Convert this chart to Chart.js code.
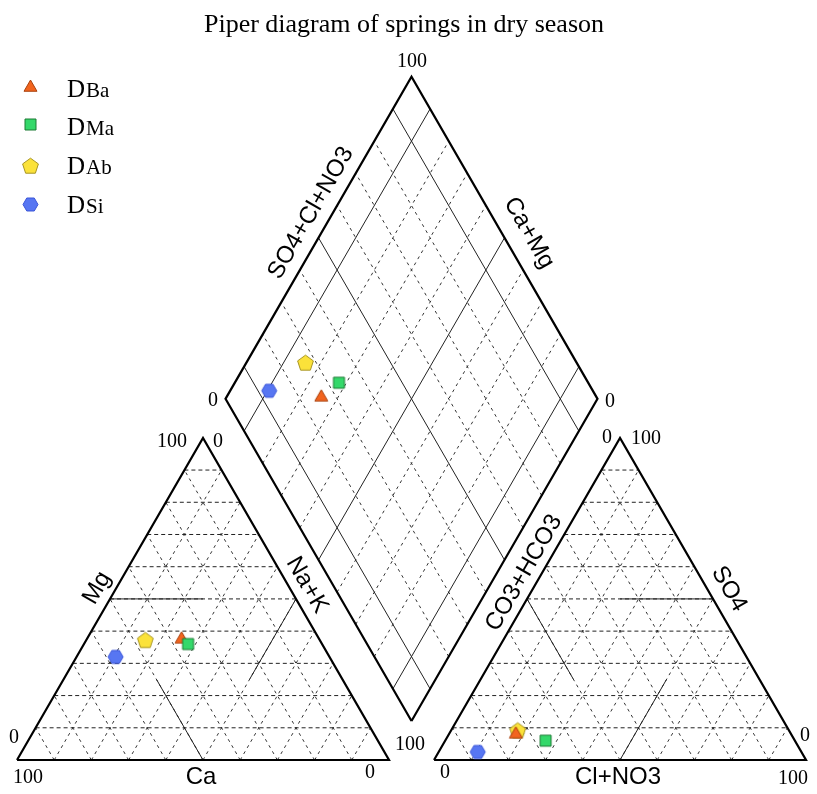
<!DOCTYPE html>
<html>
<head>
<meta charset="utf-8">
<title>Piper diagram of springs in dry season</title>
<script src="https://cdn.jsdelivr.net/npm/chart.js@4.4.1/dist/chart.umd.min.js"></script>
<style>
    html, body { margin: 0; padding: 0; background: #ffffff; }
    #wrap { width: 817px; height: 794px; position: relative; }
</style>
</head>
<body>
<div id="wrap"><canvas id="piper"></canvas></div>
<script>
// Spring samples (dry season)
var springs = ['DBa', 'DMa', 'DAb', 'DSi'];

// Cations, % meq/L
var ca  = [37, 36, 47, 57.5];
var mg  = [37.5, 36, 37, 32];
var nak = [25.5, 28, 16, 10.5];

// Anions, % meq/L
var hco3  = [74, 67, 73, 87];
var so4   = [8, 6, 9, 2.5];
var clno3 = [18, 27, 18, 10.5];

// grid levels (percent) and the ones drawn solid in the diamond
var gridLevels = [10, 20, 30, 40, 50, 60, 70, 80, 90];
var diamondSolid = [10, 50, 90];

// Geometry: each triangle side = 100 units
var H = Math.sqrt(3) / 2;
var GAP = 12.1;
var OFF = 100 + GAP;
var BX = 100 + GAP / 2, BY = GAP / 2 * Math.sqrt(3);

function cationXY(c, m, n) {
    var s = c + m + n;
    m = m / s * 100; n = n / s * 100;
    return { x: n + m / 2, y: m * H };
}
function anionXY(co, s, cl) {
    var t = co + s + cl;
    s = s / t * 100; cl = cl / t * 100;
    return { x: OFF + cl + s / 2, y: s * H };
}
function diamondXY(caMg, so4cl) {
    return { x: BX - caMg / 2 + so4cl / 2, y: BY + (caMg + so4cl) * H };
}
var GAPPT = { x: NaN, y: NaN };

// grid line builders
function triHoriz(off) {
    var pts = [];
    gridLevels.forEach(function(k) {
        pts.push({ x: off + k / 2, y: k * H }, { x: off + 100 - k / 2, y: k * H }, GAPPT);
    });
    return pts;
}
function triDiag(off) {
    var pts = [];
    gridLevels.forEach(function(k) {
        // parallel to left edge
        pts.push({ x: off + k, y: 0 }, { x: off + k + (100 - k) / 2, y: (100 - k) * H }, GAPPT);
        // parallel to right edge
        pts.push({ x: off + 100 - k, y: 0 }, { x: off + (100 - k) / 2, y: (100 - k) * H }, GAPPT);
    });
    return pts;
}
function diamondLines(solid) {
    var pts = [];
    gridLevels.forEach(function(k) {
        var isSolid = diamondSolid.indexOf(k) >= 0;
        if (isSolid !== solid) return;
        pts.push(diamondXY(k, 0), diamondXY(k, 100), GAPPT, diamondXY(0, k), diamondXY(100, k), GAPPT);
    });
    return pts;
}
function triSolid() {
    var pts = [];
    // cation triangle
    pts.push(cationXY(50, 50, 0), cationXY(25, 50, 25), GAPPT);
    pts.push(cationXY(50, 0, 50), cationXY(50, 25, 25), GAPPT);
    pts.push(cationXY(0, 50, 50), cationXY(25, 25, 50), GAPPT);
    // anion triangle
    pts.push(anionXY(0, 50, 50), anionXY(25, 50, 25), GAPPT);
    pts.push(anionXY(50, 50, 0), anionXY(50, 25, 25), GAPPT);
    pts.push(anionXY(50, 0, 50), anionXY(25, 25, 50), GAPPT);
    return pts;
}
function outlines() {
    return [
        { x: 0, y: 0 }, { x: 100, y: 0 }, { x: 50, y: 100 * H }, { x: 0, y: 0 }, GAPPT,
        { x: OFF, y: 0 }, { x: OFF + 100, y: 0 }, { x: OFF + 50, y: 100 * H }, { x: OFF, y: 0 }, GAPPT,
        diamondXY(0, 0), diamondXY(100, 0), diamondXY(100, 100), diamondXY(0, 100), diamondXY(0, 0)
    ];
}

// marker images
function makeMarker(shape, fill, stroke, r) {
    var size = Math.ceil(r * 2 + 4);
    var cv = document.createElement('canvas');
    cv.width = size; cv.height = size;
    var g = cv.getContext('2d');
    var cx = size / 2, cy = size / 2;
    g.beginPath();
    if (shape === 'square') {
        g.rect(cx - r, cy - r, 2 * r, 2 * r);
    } else {
        var n = { triangle: 3, pentagon: 5, hexagon: 6 }[shape];
        var start = shape === 'hexagon' ? 0 : -Math.PI / 2;
        for (var i = 0; i < n; i++) {
            var a = start + i * 2 * Math.PI / n;
            var px = cx + r * Math.cos(a), py = cy + r * Math.sin(a);
            if (i === 0) g.moveTo(px, py); else g.lineTo(px, py);
        }
        g.closePath();
    }
    g.fillStyle = fill;
    g.fill();
    g.lineWidth = 1;
    g.strokeStyle = stroke;
    g.stroke();
    return cv;
}
var markers = {
    DBa: makeMarker('triangle', '#f2641e', '#a8400c', 7.5),
    DMa: makeMarker('square', '#34d86a', '#1d7a34', 5.5),
    DAb: makeMarker('pentagon', '#fbe23a', '#a89522', 8.3),
    DSi: makeMarker('hexagon', '#5776f2', '#3a55d8', 7.5)
};
var drawOrder = { DMa: 0, DBa: 1, DAb: 2, DSi: 3 };

var sampleSets = springs.map(function(name, i) {
    var c = cationXY(ca[i], mg[i], nak[i]);
    var a = anionXY(hco3[i], so4[i], clno3[i]);
    var d = diamondXY(ca[i] + mg[i], so4[i] + clno3[i]);
    return {
        label: name,
        data: [c, a, d],
        pointStyle: markers[name],
        pointRadius: 7,
        showLine: false,
        order: drawOrder[name],
        clip: false
    };
});

function lineSet(label, data, color, width, dash, order) {
    return {
        label: label, data: data, showLine: true, pointRadius: 0,
        borderColor: color, borderWidth: width, borderDash: dash,
        spanGaps: false, fill: false, order: order, clip: false
    };
}

var gridSets = [
    lineSet('h', triHoriz(0).concat(triHoriz(OFF)), '#222', 1, [4, 3], 30),
    lineSet('d', triDiag(0).concat(triDiag(OFF)), '#333', 1, [3, 4], 30),
    lineSet('dd', diamondLines(false), '#333', 1, [3, 4], 30),
    lineSet('ds', diamondLines(true), '#222', 1, [], 25),
    lineSet('ts', triSolid(), '#222', 1, [], 25),
    lineSet('o', outlines(), '#000', 2.2, [], 20)
];

// pixel mapping: x px = 17 + 3.72u, y px = 760 - 3.72v
var PX = 3.72;
var xMin = -17 / PX, xMax = (817 - 17) / PX;
var yMin = -(794 - 760) / PX, yMax = 760 / PX;

var SERIF = '"Liberation Serif", "Times New Roman", serif';
var SANS = '"Liberation Sans", Arial, sans-serif';

var axisTitles = [
    ['Ca', 201, 777, 0], ['Cl+NO3', 618, 777, 0],
    ['Mg', 97, 588, -60], ['Na+K', 307, 585, 60],
    ['CO3+HCO3', 524, 573, -60], ['SO4', 729, 589, 60],
    ['SO4+Cl+NO3', 311, 213, -60], ['Ca+Mg', 529, 233, 60]
];
var endLabels = [
    ['100', 412, 62], ['0', 213, 401], ['0', 610, 402],
    ['100', 172, 442], ['0', 218, 442], ['0', 14, 738], ['100', 28, 778],
    ['0', 370, 773], ['100', 410, 745],
    ['0', 607, 438], ['100', 646, 439], ['0', 805, 736], ['0', 445, 773], ['100', 793, 779]
];
var legendOrder = ['DBa', 'DMa', 'DAb', 'DSi'];

var textPlugin = {
    id: 'piperText',
    afterDraw: function(chart) {
        var ctx = chart.ctx;
        ctx.save();
        ctx.fillStyle = '#000';
        ctx.textAlign = 'center';
        ctx.textBaseline = 'middle';

        ctx.font = '26px ' + SERIF;
        ctx.fillText('Piper diagram of springs in dry season', 404, 25);

        ctx.font = '20px ' + SERIF;
        endLabels.forEach(function(l) { ctx.fillText(l[0], l[1], l[2]); });

        ctx.font = '24px ' + SANS;
        axisTitles.forEach(function(l) {
            ctx.save();
            ctx.translate(l[1], l[2]);
            ctx.rotate(l[3] * Math.PI / 180);
            ctx.fillText(l[0], 0, 0);
            ctx.restore();
        });

        // legend
        ctx.textAlign = 'left';
        ctx.textBaseline = 'alphabetic';
        legendOrder.forEach(function(name, i) {
            var m = markers[name];
            var my = [87, 124, 166, 204][i];
            var by = [97, 135, 174, 213][i];
            ctx.drawImage(m, Math.round(30 - m.width / 2), Math.round(my - m.height / 2));
            ctx.font = '25px ' + SERIF;
            ctx.fillText('D', 67, by);
            var w = ctx.measureText('D').width;
            ctx.font = '21px ' + SERIF;
            ctx.fillText(name.slice(1), 67 + w + 1, by);
        });
        ctx.restore();
    }
};

new Chart(document.getElementById('piper').getContext('2d'), {
    type: 'scatter',
    data: { datasets: sampleSets.concat(gridSets) },
    options: {
        responsive: true,
        maintainAspectRatio: false,
        animation: false,
        events: [],
        layout: { padding: 0, autoPadding: false },
        plugins: { legend: { display: false }, tooltip: { enabled: false } },
        scales: {
            x: { type: 'linear', display: false, min: xMin, max: xMax },
            y: { type: 'linear', display: false, min: yMin, max: yMax }
        }
    },
    plugins: [textPlugin]
});
</script>
</body>
</html>
